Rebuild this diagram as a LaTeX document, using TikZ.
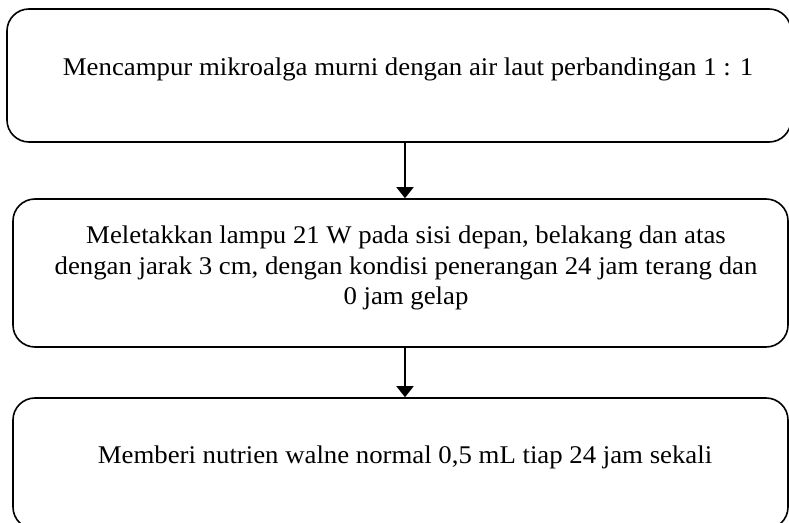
\documentclass[tikz,border=0pt]{standalone}
\usepackage{fontspec}
\setmainfont{Liberation Serif}
\usetikzlibrary{arrows.meta}
\newcommand{\tallt}[1]{\scalebox{1.03}[0.98]{\parbox{770bp}{\centering\fontsize{26bp}{31.4bp}\selectfont #1}}}
\begin{document}
\begin{tikzpicture}[x=1bp,y=-1bp,
  box/.style={draw, line width=1.6bp, rounded corners=22bp, inner sep=0pt},
  txt/.style={inner sep=0pt},
  arr/.style={line width=1.8bp, -{Triangle[width=17bp,length=11bp]}}]
\clip (0,0) rectangle (789,523);
\fill[white] (0,0) rectangle (789,523);
\node[box, minimum width=784bp, minimum height=133bp] (b1) at (399,75.5) {};
\node[box, minimum width=775bp, minimum height=148bp] (b2) at (400.5,273) {};
\node[box, minimum width=775bp, minimum height=131bp] (b3) at (400.5,463.5) {};
\node[txt] (t1) at (408,69) {\tallt{Mencampur mikroalga murni dengan air laut perbandingan 1 : 1}};
\node[txt] (t2) at (406,268) {\tallt{Meletakkan lampu 21 W pada sisi depan, belakang dan atas\\dengan jarak 3 cm, dengan kondisi penerangan 24 jam terang dan\\0 jam gelap}};
\node[txt] (t3) at (405,457) {\tallt{Memberi nutrien walne normal 0,5 mL tiap 24 jam sekali}};
\coordinate (ax) at (405,0);
\draw[arr] (b1.south -| ax) -- (b2.north -| ax);
\draw[arr] (b2.south -| ax) -- (b3.north -| ax);
\end{tikzpicture}
\end{document}
